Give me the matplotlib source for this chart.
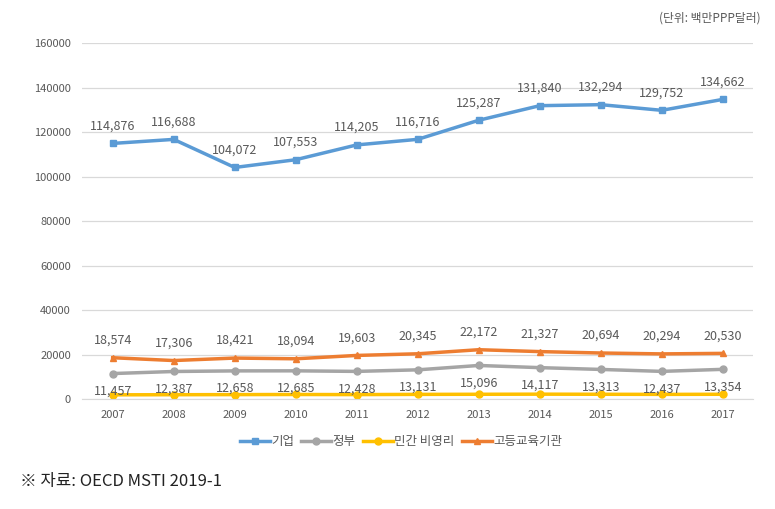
import numpy as np
import matplotlib.pyplot as plt

plt.rcParams['font.family'] = ['Noto Sans CJK KR', 'DejaVu Sans']

years = ['2007', '2008', '2009', '2010', '2011', '2012', '2013', '2014', '2015', '2016', '2017']
business = [114876, 116688, 104072, 107553, 114205, 116716, 125287, 131840, 132294, 129752, 134662]
government = [11457, 12387, 12658, 12685, 12428, 13131, 15096, 14117, 13313, 12437, 13354]
nonprofit = [1900, 1950, 2000, 2050, 2000, 2100, 2150, 2200, 2150, 2100, 2150]
higher_edu = [18574, 17306, 18421, 18094, 19603, 20345, 22172, 21327, 20694, 20294, 20530]

series_names = ['기업', '정부', '민간 비영리', '고등교육기관']
colors = ['#5B9BD5', '#A5A5A5', '#FFC000', '#ED7D31']
markers = ['s', 'o', 'o', '^']

text_color = '#595959'

fig = plt.figure(figsize=(7.75, 5.09), dpi=100)
ax = fig.add_axes([0.106, 0.216, 0.866, 0.6995])

x = np.arange(len(years))
all_series = [business, government, nonprofit, higher_edu]
for vals, name, c, m in zip(all_series, series_names, colors, markers):
    ax.plot(x, vals, color=c, marker=m, markersize=5, linewidth=2.5, label=name)

# data labels
for xi, v in zip(x, business):
    ax.annotate(f"{v:,}", (xi, v), xytext=(0, 8), textcoords='offset points',
                ha='center', va='bottom', fontsize=9, color=text_color)
for xi, v in zip(x, higher_edu):
    ax.annotate(f"{v:,}", (xi, v), xytext=(0, 8), textcoords='offset points',
                ha='center', va='bottom', fontsize=9, color=text_color)
for xi, v in zip(x, government):
    ax.annotate(f"{v:,}", (xi, v), xytext=(0, -8), textcoords='offset points',
                ha='center', va='top', fontsize=9, color=text_color)

ax.set_xlim(-0.5, len(years) - 0.5)
ax.set_ylim(0, 160000)
ax.set_yticks(np.arange(0, 160001, 20000))
ax.set_yticklabels([str(v) for v in range(0, 160001, 20000)])
ax.set_xticks(x)
ax.set_xticklabels(years)
ax.tick_params(length=0, labelsize=8, colors=text_color, pad=8)
ax.grid(axis='y', color='#D9D9D9', linewidth=0.9)
ax.set_axisbelow(True)
for s in ['top', 'right', 'left']:
    ax.spines[s].set_visible(False)
ax.spines['bottom'].set_color('#D9D9D9')

leg = ax.legend(loc='upper center', bbox_to_anchor=(0.475, -0.07), ncol=4, frameon=False,
                fontsize=9, handlelength=2.4, columnspacing=0.6, handletextpad=0.1)
for t in leg.get_texts():
    t.set_color(text_color)

fig.text(0.982, 0.978, '(단위: 백만PPP달러)', ha='right', va='top', fontsize=8.5, color=text_color)
fig.text(0.026, 0.055, '※ 자료: OECD MSTI 2019-1', ha='left', va='center', fontsize=12,
         color='#222222')

fig.savefig('out.png', dpi=100)
